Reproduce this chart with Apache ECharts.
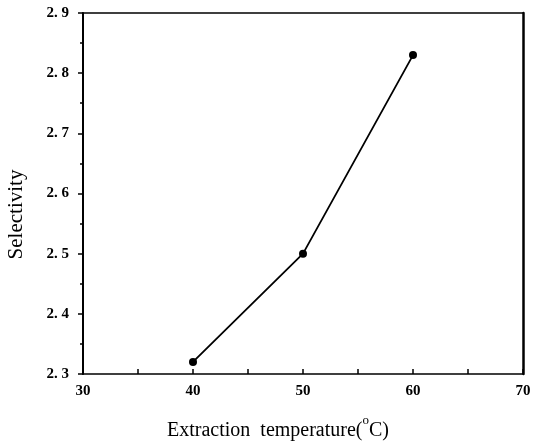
<!DOCTYPE html>
<html>
<head>
<meta charset="utf-8">
<script src="https://cdn.jsdelivr.net/npm/echarts@6/dist/echarts.min.js"></script>
<style>
  html, body { margin: 0; padding: 0; background: #fff; }
  #chart { width: 533px; height: 444px; }
</style>
</head>
<body>
<div id="chart"></div>
<script>
// data
const temperatures = [40, 50, 60];
const selectivity = [2.32, 2.50, 2.83];

const chart = echarts.init(document.getElementById('chart'));

const tickFont = {
  color: '#000',
  fontFamily: 'Liberation Serif',
  fontWeight: 'bold',
  fontSize: 15
};

chart.setOption({
  animation: false,
  backgroundColor: '#fff',
  grid: {
    left: 83,
    right: 10,
    top: 13,
    bottom: 70,
    outerBoundsMode: 'none'
  },
  xAxis: [{
    type: 'value',
    min: 30,
    max: 70,
    interval: 10,
    name: '{n|Extraction  temperature(}{s|o}{n|C)}',
    nameLocation: 'middle',
    nameGap: 40,
    nameTextStyle: {
      padding: [0, 50, 0, 0],
      rich: {
        n: { fontFamily: 'Liberation Serif', fontSize: 20, color: '#000', padding: [7, 0, 0, 0] },
        s: { fontFamily: 'Liberation Serif', fontSize: 13, color: '#000', verticalAlign: 'top' }
      }
    },
    axisLine: { lineStyle: { color: '#000', width: 1.5 } },
    axisTick: { inside: true, length: 5, lineStyle: { color: '#000', width: 1.5 } },
    minorTick: { show: true, splitNumber: 2, length: 5, lineStyle: { color: '#000', width: 1.5 } },
    axisLabel: Object.assign({ margin: 10 }, tickFont),
    splitLine: { show: false }
  }, {
    type: 'value',
    position: 'top',
    min: 30,
    max: 70,
    axisLine: { show: true, lineStyle: { color: '#000', width: 1.5 } },
    axisTick: { show: false },
    axisLabel: { show: false },
    splitLine: { show: false }
  }],
  yAxis: [{
    type: 'value',
    min: 2.3,
    max: 2.9,
    interval: 0.1,
    name: 'Selectivity',
    nameLocation: 'middle',
    nameGap: 56,
    nameTextStyle: {
      fontFamily: 'Liberation Serif',
      fontSize: 21,
      color: '#000',
      padding: [0, 42, 0, 0]
    },
    axisLine: { lineStyle: { color: '#000', width: 2 } },
    axisTick: { inside: false, length: 5, lineStyle: { color: '#000', width: 1.5 } },
    minorTick: { show: true, splitNumber: 2, length: 3, lineStyle: { color: '#000', width: 1.5 } },
    axisLabel: Object.assign({
      margin: 14,
      formatter: function (v) { return v.toFixed(1).replace('.', '. '); }
    }, tickFont),
    splitLine: { show: false }
  }, {
    type: 'value',
    position: 'right',
    min: 2.3,
    max: 2.9,
    axisLine: { show: true, lineStyle: { color: '#000', width: 2.5 } },
    axisTick: { show: false },
    axisLabel: { show: false },
    splitLine: { show: false }
  }],
  series: [{
    type: 'line',
    data: temperatures.map((t, i) => [t, selectivity[i]]),
    symbol: 'circle',
    symbolSize: 8,
    lineStyle: { color: '#000', width: 1.8 },
    itemStyle: { color: '#000' }
  }]
});
</script>
</body>
</html>
